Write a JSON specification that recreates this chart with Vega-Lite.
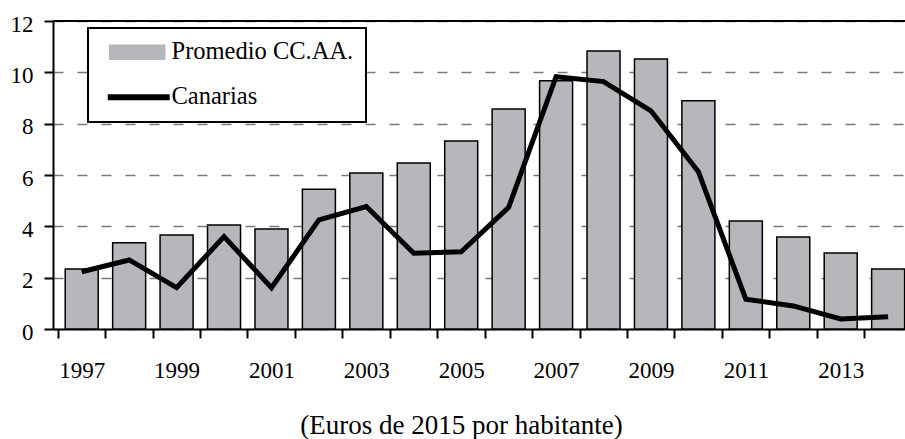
{
  "$schema": "https://vega.github.io/schema/vega-lite/v6.json",
  "width": 852,
  "height": 308,
  "autosize": {"type": "none"},
  "padding": {"left": 53, "top": 21, "right": 0, "bottom": 110},
  "background": "white",
  "config": {
    "view": {"stroke": null},
    "font": "Liberation Serif",
    "axis": {
      "labelFont": "Liberation Serif",
      "labelFontSize": 23,
      "labelColor": "black",
      "titleFont": "Liberation Serif",
      "titleColor": "black",
      "titleFontWeight": "normal",
      "domainColor": "black",
      "domainWidth": 2,
      "tickColor": "black",
      "tickWidth": 2,
      "tickSize": 9
    },
    "legend": {
      "labelFont": "Liberation Serif",
      "labelFontSize": 24.5,
      "labelColor": "black"
    }
  },
  "data": {
    "values": [
      {"year": 1997, "serie": "Promedio CC.AA.", "value": 2.34},
      {"year": 1998, "serie": "Promedio CC.AA.", "value": 3.36},
      {"year": 1999, "serie": "Promedio CC.AA.", "value": 3.66},
      {"year": 2000, "serie": "Promedio CC.AA.", "value": 4.05},
      {"year": 2001, "serie": "Promedio CC.AA.", "value": 3.9},
      {"year": 2002, "serie": "Promedio CC.AA.", "value": 5.44},
      {"year": 2003, "serie": "Promedio CC.AA.", "value": 6.08},
      {"year": 2004, "serie": "Promedio CC.AA.", "value": 6.47},
      {"year": 2005, "serie": "Promedio CC.AA.", "value": 7.32},
      {"year": 2006, "serie": "Promedio CC.AA.", "value": 8.57},
      {"year": 2007, "serie": "Promedio CC.AA.", "value": 9.67},
      {"year": 2008, "serie": "Promedio CC.AA.", "value": 10.83},
      {"year": 2009, "serie": "Promedio CC.AA.", "value": 10.52},
      {"year": 2010, "serie": "Promedio CC.AA.", "value": 8.89},
      {"year": 2011, "serie": "Promedio CC.AA.", "value": 4.21},
      {"year": 2012, "serie": "Promedio CC.AA.", "value": 3.58},
      {"year": 2013, "serie": "Promedio CC.AA.", "value": 2.96},
      {"year": 2014, "serie": "Promedio CC.AA.", "value": 2.34},
      {"year": 1997, "serie": "Canarias", "value": 2.23},
      {"year": 1998, "serie": "Canarias", "value": 2.69},
      {"year": 1999, "serie": "Canarias", "value": 1.61},
      {"year": 2000, "serie": "Canarias", "value": 3.6},
      {"year": 2001, "serie": "Canarias", "value": 1.61},
      {"year": 2002, "serie": "Canarias", "value": 4.25},
      {"year": 2003, "serie": "Canarias", "value": 4.77},
      {"year": 2004, "serie": "Canarias", "value": 2.95},
      {"year": 2005, "serie": "Canarias", "value": 3.01},
      {"year": 2006, "serie": "Canarias", "value": 4.74},
      {"year": 2007, "serie": "Canarias", "value": 9.83},
      {"year": 2008, "serie": "Canarias", "value": 9.64},
      {"year": 2009, "serie": "Canarias", "value": 8.5},
      {"year": 2010, "serie": "Canarias", "value": 6.13},
      {"year": 2011, "serie": "Canarias", "value": 1.16},
      {"year": 2012, "serie": "Canarias", "value": 0.9},
      {"year": 2013, "serie": "Canarias", "value": 0.39},
      {"year": 2014, "serie": "Canarias", "value": 0.48}
    ]
  },
  "encoding": {
    "x": {
      "field": "year",
      "type": "quantitative",
      "scale": {"domain": [1996.5, 2014.25], "nice": false, "zero": false},
      "axis": {
        "values": [1997, 1998, 1999, 2000, 2001, 2002, 2003, 2004, 2005, 2006, 2007, 2008, 2009, 2010, 2011, 2012, 2013, 2014],
        "tickOffset": -24,
        "labelOffset": 24,
        "labelExpr": "datum.value % 2 == 1 ? datum.label : ''",
        "format": "d",
        "labelFlush": false,
        "labelOverlap": false,
        "labelBound": false,
        "grid": false,
        "labelPadding": 21,
        "labelFont": "Liberation Serif",
        "labelFontSize": 23,
        "title": "(Euros de 2015 por habitante)",
        "titleFont": "Liberation Serif",
        "titleFontSize": 27,
        "titleBaseline": "alphabetic",
        "titleAlign": "center",
        "titleAnchor": "start",
        "titleX": 408,
        "titleY": 104
      }
    },
    "y": {
      "field": "value",
      "type": "quantitative",
      "scale": {"domain": [0, 12], "nice": false},
      "axis": {
        "values": [0, 2, 4, 6, 8, 10, 12],
        "title": null,
        "grid": true,
        "gridColor": "#7a7a7a",
        "gridDash": [10, 14],
        "gridWidth": 1.3,
        "labelPadding": 11,
        "labelOffset": 3,
        "labelFont": "Liberation Serif",
        "labelFontSize": 23
      }
    },
    "color": {
      "field": "serie",
      "type": "nominal",
      "scale": {"domain": ["Promedio CC.AA.", "Canarias"], "range": ["#b6b7bb", "black"]},
      "legend": {
        "orient": "none",
        "legendX": 35,
        "legendY": 7,
        "title": null,
        "strokeColor": "black",
        "fillColor": "white",
        "padding": 12,
        "rowPadding": 20,
        "labelOffset": 47,
        "labelLimit": 400,
        "symbolSize": 196,
        "symbolStrokeWidth": 1.5,
        "encode": {
          "legend": {"update": {"strokeWidth": {"value": 2}}},
          "symbols": {
            "update": {
              "shape": {"signal": "datum.value === 'Canarias' ? 'M-0.643,0H8.214' : 'M-0.357,-1H7.5V1H-0.357Z'"},
              "fill": {"signal": "datum.value === 'Canarias' ? 'transparent' : '#b6b7bb'"},
              "stroke": {"value": "black"},
              "strokeWidth": {"signal": "datum.value === 'Canarias' ? 6 : 1.5"},
              "opacity": {"value": 1}
            }
          }
        }
      }
    }
  },
  "layer": [
    {
      "transform": [{"filter": "datum.serie === 'Promedio CC.AA.'"}],
      "mark": {"type": "bar", "size": 33, "stroke": "black", "strokeWidth": 1.5, "clip": true, "opacity": 1}
    },
    {
      "transform": [{"filter": "datum.serie === 'Canarias'"}],
      "mark": {"type": "line", "strokeWidth": 5, "clip": true}
    },
    {
      "mark": {"type": "rule", "color": "black", "strokeWidth": 2},
      "encoding": {"y": {"datum": 12}, "x": {"value": 0}, "x2": {"value": 852}, "color": {"value": "black"}}
    }
  ]
}
